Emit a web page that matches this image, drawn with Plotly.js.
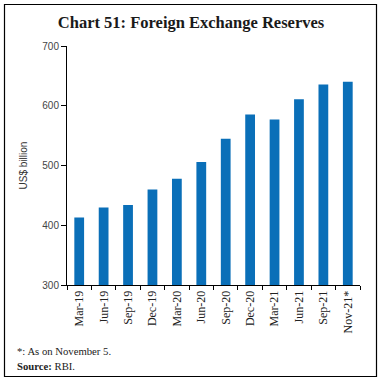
<!DOCTYPE html>
<html>
<head>
<meta charset="utf-8">
<script src="https://cdn.plot.ly/plotly-3.0.1.min.js"></script>
<style>
html,body{margin:0;padding:0;background:#fff;}
#chart{width:382px;height:382px;}
</style>
</head>
<body>
<div id="chart"></div>
<script>
const categories = ["Mar-19","Jun-19","Sep-19","Dec-19","Mar-20","Jun-20","Sep-20","Dec-20","Mar-21","Jun-21","Sep-21","Nov-21*"];
const reserves = [412.9, 429.9, 433.7, 459.9, 477.8, 506.0, 544.7, 585.3, 577.0, 611.0, 635.5, 640.1];

const L = 67, R = 22, T = 46, B = 97;
const W = 382 - L - R, H = 382 - T - B;
const px = x => (x - L) / W;
const py = y => (382 - B - y) / H;

const trace = {
  type: "bar",
  x: categories,
  y: reserves,
  marker: {color: "#0a6fb8"},
  hoverinfo: "x+y"
};

const layout = {
  width: 382, height: 382,
  margin: {l: L, r: R, t: T, b: B},
  paper_bgcolor: "#fff", plot_bgcolor: "#fff",
  showlegend: false,
  bargap: 0.6,
  title: {
    text: "<b>Chart 51: Foreign Exchange Reserves</b>",
    font: {family: "Liberation Serif", size: 16.5, color: "#1a1a1a"},
    x: 0.5, xanchor: "center", y: 1 - 22/382, yanchor: "middle"
  },
  xaxis: {
    type: "category",
    tickangle: -90,
    tickson: "boundaries",
    ticks: "outside", ticklen: 4, tickcolor: "#000",
    showline: true, linecolor: "#000", linewidth: 1,
    showgrid: false,
    tickfont: {family: "Liberation Serif", size: 12, color: "#222"}
  },
  yaxis: {
    range: [300, 700], dtick: 100,
    ticks: "outside", ticklen: 5, tickcolor: "#000",
    showline: true, linecolor: "#000", linewidth: 1,
    showgrid: false, zeroline: false,
    tickfont: {family: "Liberation Sans", size: 10, color: "#444"},
    title: {text: "US$ billion", font: {family: "Liberation Sans", size: 10, color: "#333"}, standoff: 12}
  },
  shapes: [{
    type: "rect", xref: "paper", yref: "paper",
    x0: px(4.5), x1: px(376.5), y0: py(376.5), y1: py(4.5),
    line: {color: "#000", width: 1.2}, fillcolor: "rgba(0,0,0,0)"
  }],
  annotations: [
    {xref: "paper", yref: "paper", x: px(15), y: py(351), xanchor: "left", yanchor: "middle",
     showarrow: false, text: "*: As on November 5.",
     font: {family: "Liberation Serif", size: 10.7, color: "#222"}},
    {xref: "paper", yref: "paper", x: px(15), y: py(366), xanchor: "left", yanchor: "middle",
     showarrow: false, text: "<b>Source:</b> RBI.",
     font: {family: "Liberation Serif", size: 10.7, color: "#222"}}
  ]
};

Plotly.newPlot("chart", [trace], layout, {displayModeBar: false, staticPlot: true});
</script>
</body>
</html>
